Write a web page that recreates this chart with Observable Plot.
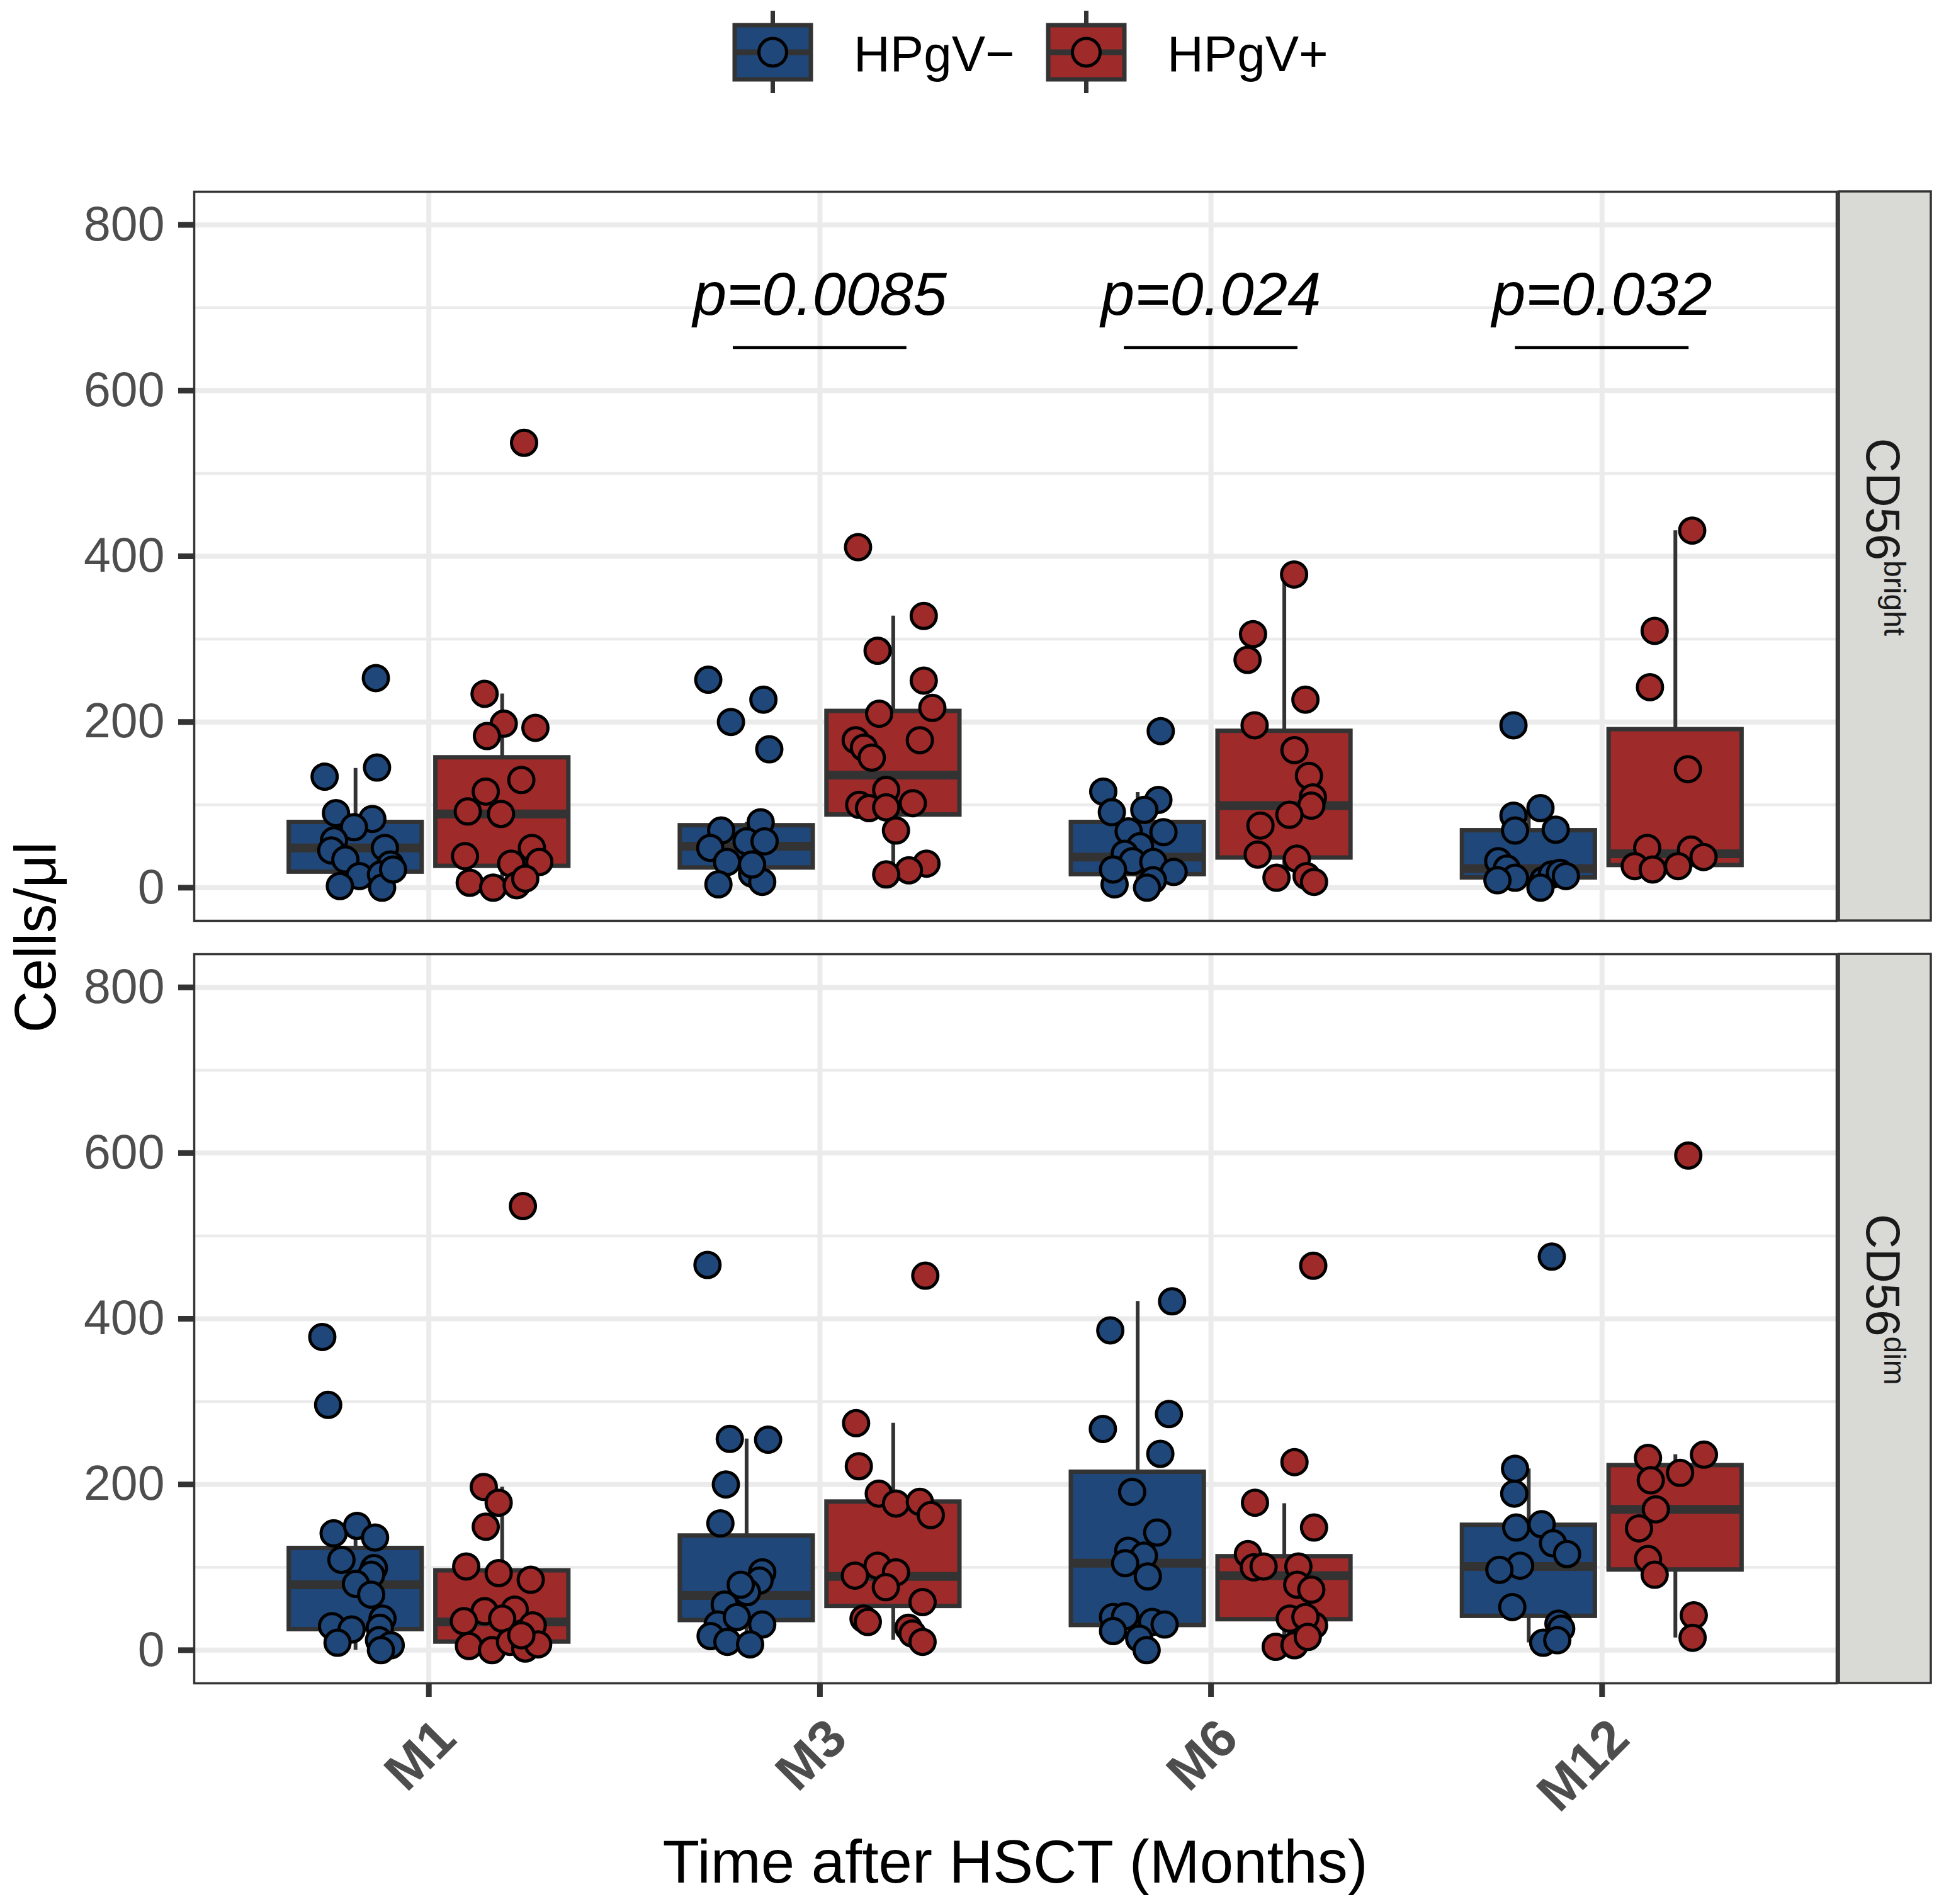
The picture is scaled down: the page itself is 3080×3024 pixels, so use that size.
<!DOCTYPE html>
<html><head><meta charset="utf-8">
<script src="https://cdn.jsdelivr.net/npm/d3@7"></script>
<script src="https://cdn.jsdelivr.net/npm/@observablehq/plot@0.6"></script>
<style>
html,body{margin:0;padding:0;background:#fff;}
#legend{height:180px;}
svg{display:block;}
</style></head><body>
<div id="legend"></div>
<div id="chart"></div>
<script>
const months = ["M1", "M3", "M6", "M12"];
const groups = ["HPgV−", "HPgV+"];
const groupColors = ["#204779", "#9f2a2a"];
const panels = ["CD56bright", "CD56dim"];
const stripBase = "CD56";
const stripSup = ["bright", "dim"];
const yTicks = [0, 200, 400, 600, 800];
const yMinor = [100, 300, 500, 700];
const sigMonths = ["M3", "M6", "M12"];
const sigLabels = ["p=0.0085", "p=0.024", "p=0.032"];
const sigY = 652;
const xTitle = "Time after HSCT (Months)";
const yTitle = "Cells/μl";

// values per month (M1, M3, M6, M12)
const brightNegValues = [
  [253,134,145,90,83,73,57,48,45,34,28,14,16,2,0,22],
  [251,227,200,167,79,69,56,48,56,31,17,4,7,28],
  [189,116,106,91,94,68,67,50,41,32,31,19,4,9,0,22],
  [196,87,96,69,70,32,23,12,9,9,16,18,14,0]
];
const brightNegJitter = [
  [0.052,-0.079,0.055,-0.05,0.043,-0.004,-0.055,0.075,-0.062,-0.026,0.089,0.01,0.065,-0.04,0.068,0.096],
  [-0.098,0.043,-0.04,0.058,0.036,-0.065,0,-0.093,0.046,-0.05,0.014,-0.072,0.04,0.014],
  [0.059,-0.088,0.053,-0.066,0.017,-0.023,0.066,0.006,-0.033,-0.013,0.04,0.092,-0.059,0.039,0.024,-0.063],
  [-0.039,-0.039,0.03,-0.035,0.069,-0.078,-0.056,-0.035,-0.08,0.037,0.059,0.08,0.095,0.03]
];
const brightPosValues = [
  [537,234,198,193,183,130,116,92,89,38,48,31,29,6,0,3,11],
  [411,328,286,250,217,210,178,178,169,157,118,102,100,96,97,69,29,21,16],
  [378,306,275,227,196,166,135,109,99,88,75,40,35,12,14,7],
  [431,310,242,143,48,46,37,26,22,26]
];
const brightPosJitter = [
  [0.056,-0.045,0.004,0.085,-0.039,0.049,-0.042,-0.088,-0.003,-0.095,0.076,0.095,0.023,-0.083,-0.023,0.037,0.059],
  [-0.09,0.078,-0.04,0.078,0.1,-0.036,-0.096,0.068,-0.075,-0.055,-0.018,0.05,-0.087,-0.062,-0.018,0.007,0.085,0.04,-0.018],
  [0.025,-0.08,-0.094,0.054,-0.076,0.026,0.063,0.073,0.069,0.013,-0.061,-0.068,0.032,-0.02,0.057,0.076],
  [0.043,-0.053,-0.065,0.032,-0.072,0.04,0.072,-0.104,-0.058,0.007]
];
const dimNegValues = [
  [378,296,141,150,136,109,99,91,80,67,29,25,38,27,9,12,6,0],
  [465,255,254,200,153,94,84,70,79,55,31,31,17,10,7,40],
  [421,386,267,285,237,191,142,120,114,105,89,40,41,34,31,23,14,0],
  [475,219,189,148,152,129,116,102,97,52,32,26,9,12]
];
const dimNegJitter = [
  [-0.085,-0.07,-0.056,0.004,0.05,-0.036,0.047,0.04,0.001,0.04,-0.06,-0.01,0.069,0.062,-0.046,0.06,0.09,0.065],
  [-0.1,-0.043,0.055,-0.053,-0.067,0.04,0.033,0.001,-0.015,-0.056,0.04,-0.074,-0.092,-0.049,0.009,-0.025],
  [0.088,-0.07,-0.089,0.08,0.058,-0.014,0.05,-0.024,0.016,-0.032,0.026,-0.063,-0.032,0.037,0.069,-0.063,0.004,0.023],
  [0.059,-0.035,-0.037,-0.032,0.033,0.062,0.098,-0.022,-0.075,-0.042,0.076,0.083,0.037,0.073]
];
const dimPosValues = [
  [536,197,178,149,101,93,85,47,49,35,38,30,5,0,10,2,7,18],
  [452,274,222,189,177,179,163,102,94,90,76,58,38,34,27,20,10],
  [464,227,178,148,116,100,101,101,79,73,38,30,40,4,6,16],
  [597,236,232,214,205,170,147,110,91,42,15]
];
const dimPosJitter = [
  [0.053,-0.047,-0.009,-0.042,-0.092,-0.009,0.073,-0.045,0.032,-0.098,0,0.078,-0.085,-0.026,0.02,0.059,0.092,0.049],
  [0.082,-0.095,-0.088,-0.037,0.007,0.068,0.096,-0.04,0.007,-0.098,-0.019,0.075,-0.076,-0.065,0.039,0.049,0.075],
  [0.074,0.026,-0.075,0.076,-0.093,-0.078,-0.053,0.036,0.033,0.069,0.014,0.076,0.054,-0.022,0.026,0.06],
  [0.033,0.073,-0.07,0.012,-0.063,-0.05,-0.093,-0.07,-0.053,0.047,0.044]
];
// box stats per month: [lower whisker, q1, median, q3, upper whisker]
const brightNegBox = [[0,19,48,79,144],[4,24,50,75,79],[0,16,37,79,115],[0,12,23,69,96]];
const brightPosBox = [[0,26,89,157,234],[16,88,136,213,328],[7,36,99,189,378],[22,27,41,191,431]];
const dimNegBox = [[0,25,79,123,150],[7,36,66,138,255],[0,30,105,215,421],[9,41,101,151,219]];
const dimPosBox = [[0,10,34,96,197],[12,53,89,179,274],[4,37,90,113,177],[15,97,170,223,236]];

const FONT = "'Liberation Sans', Arial, Helvetica, sans-serif";
const dodge = [-0.1875, 0.1875];
const halfBox = 0.17;
const sigHalf = 0.222;
const legendH = 180;
const W = 3080, H = 3024 - legendH;

const series = [
  {panel: panels[0], g: 0, values: brightNegValues, jitter: brightNegJitter, box: brightNegBox},
  {panel: panels[0], g: 1, values: brightPosValues, jitter: brightPosJitter, box: brightPosBox},
  {panel: panels[1], g: 0, values: dimNegValues, jitter: dimNegJitter, box: dimNegBox},
  {panel: panels[1], g: 1, values: dimPosValues, jitter: dimPosJitter, box: dimPosBox}
];
const pointRows = [], boxRows = [];
for (const s of series) {
  months.forEach((m, i) => {
    const cx = i + 1 + dodge[s.g];
    const [low, q1, median, q3, high] = s.box[i];
    boxRows.push({panel: s.panel, group: groups[s.g], cx, low, q1, median, q3, high});
    s.values[i].forEach((v, k) => pointRows.push({panel: s.panel, group: groups[s.g], x: cx + s.jitter[i][k], value: v}));
  });
}
const sigRows = sigMonths.map((m, k) => ({panel: panels[0], pos: months.indexOf(m) + 1, label: sigLabels[k], y: sigY}));
const tickRows = months.map((m, i) => ({panel: panels[1], pos: i + 1, label: m}));

const chart = Plot.plot({
  width: W, height: H,
  marginTop: 124, marginBottom: 351, marginLeft: 308, marginRight: 163,
  style: {fontFamily: FONT, background: "white", maxWidth: "none"},
  x: {domain: [0.4, 4.6]},
  y: {domain: [-40, 840]},
  fy: {domain: panels, paddingInner: 0.044, paddingOuter: 0, axis: null, label: null},
  color: {domain: groups, range: groupColors},
  marks: [
    Plot.gridY(yMinor, {stroke: "#ebebeb", strokeOpacity: 1, strokeWidth: 4.5}),
    Plot.gridY(yTicks, {stroke: "#ebebeb", strokeOpacity: 1, strokeWidth: 8}),
    Plot.gridX(months.map((m, i) => i + 1), {stroke: "#ebebeb", strokeOpacity: 1, strokeWidth: 8}),
    Plot.ruleX(boxRows, {x: "cx", y1: "low", y2: "high", fy: "panel", stroke: "#333333", strokeWidth: 6}),
    Plot.rect(boxRows, {x1: d => d.cx - halfBox, x2: d => d.cx + halfBox, y1: "q1", y2: "q3", fy: "panel", fill: "group", stroke: "#333333", strokeWidth: 7}),
    Plot.ruleY(boxRows, {x1: d => d.cx - halfBox, x2: d => d.cx + halfBox, y: "median", fy: "panel", stroke: "#333333", strokeWidth: 14}),
    Plot.dot(pointRows, {x: "x", y: "value", fy: "panel", fill: "group", stroke: "black", strokeWidth: 5, r: 20}),
    Plot.ruleY(sigRows, {x1: d => d.pos - sigHalf, x2: d => d.pos + sigHalf, y: "y", fy: "panel", stroke: "black", strokeWidth: 4.5}),
    Plot.text(sigRows, {x: "pos", y: "y", text: "label", fy: "panel", fontSize: 96, fontStyle: "italic", lineAnchor: "bottom", dy: -52, fill: "black"}),
    Plot.frame({stroke: "#333333", strokeWidth: 3.5}),
    Plot.axisY(yTicks, {tickSize: 25, tickPadding: 22, fontSize: 77, stroke: "#333333", strokeWidth: 9, fill: "#4d4d4d", label: null}),
    Plot.axisX(months.map((m, i) => i + 1), {tickSize: 22, tickFormat: () => "", stroke: "#333333", strokeWidth: 9, label: null}),
    Plot.text(tickRows, {x: "pos", fy: "panel", text: "label", frameAnchor: "bottom", dy: 50, dx: 5, rotate: -45, textAnchor: "end", lineAnchor: "top", fontSize: 84, fontWeight: "bold", fill: "#4d4d4d"})
  ]
});
document.getElementById("chart").appendChild(chart);

// strips, axis titles
const svg = d3.select(chart);
const fy = chart.scale("fy");
const frameRight = W - 163;
panels.forEach((p, i) => {
  const top = fy.apply(p), h = fy.bandwidth;
  svg.append("rect").attr("x", frameRight + 4).attr("y", top).attr("width", 146).attr("height", h)
    .attr("fill", "#d9d9d6").attr("stroke", "#333333").attr("stroke-width", 3.5);
  const t = svg.append("text").attr("transform", `translate(${frameRight + 48},${top + h / 2 - 30}) rotate(90)`)
    .attr("text-anchor", "middle").attr("fill", "#1a1a1a").style("font-family", FONT);
  t.append("tspan").attr("font-size", 76).text(stripBase);
  t.append("tspan").attr("font-size", 48).attr("dy", -28).text(stripSup[i]);
});
const top0 = fy.apply(panels[0]), bot1 = fy.apply(panels[1]) + fy.bandwidth;
svg.append("text").attr("transform", `translate(88,${(top0 + bot1) / 2}) rotate(-90)`)
  .attr("text-anchor", "middle").attr("font-size", 92).attr("fill", "black").style("font-family", FONT).text(yTitle);
svg.append("text").attr("x", (308 + frameRight) / 2).attr("y", H - 34)
  .attr("text-anchor", "middle").attr("font-size", 96).attr("fill", "black").style("font-family", FONT).text(xTitle);

// legend
const lg = d3.select("#legend").append("svg").attr("width", W).attr("height", legendH).style("font-family", FONT);
const keyX = [1167, 1665];
groups.forEach((g, i) => {
  const cx = keyX[i] + 60.5;
  lg.append("line").attr("x1", cx).attr("x2", cx).attr("y1", 17).attr("y2", 148).attr("stroke", "#333333").attr("stroke-width", 7);
  lg.append("rect").attr("x", keyX[i]).attr("y", 40).attr("width", 121).attr("height", 86)
    .attr("fill", groupColors[i]).attr("stroke", "#333333").attr("stroke-width", 7);
  lg.append("line").attr("x1", keyX[i]).attr("x2", keyX[i] + 121).attr("y1", 83).attr("y2", 83).attr("stroke", "#333333").attr("stroke-width", 9);
  lg.append("circle").attr("cx", cx).attr("cy", 83).attr("r", 22).attr("fill", groupColors[i]).attr("stroke", "black").attr("stroke-width", 5);
  lg.append("text").attr("x", keyX[i] + 189).attr("y", 113).attr("font-size", 80).attr("fill", "black").text(g);
});
</script></body></html>
